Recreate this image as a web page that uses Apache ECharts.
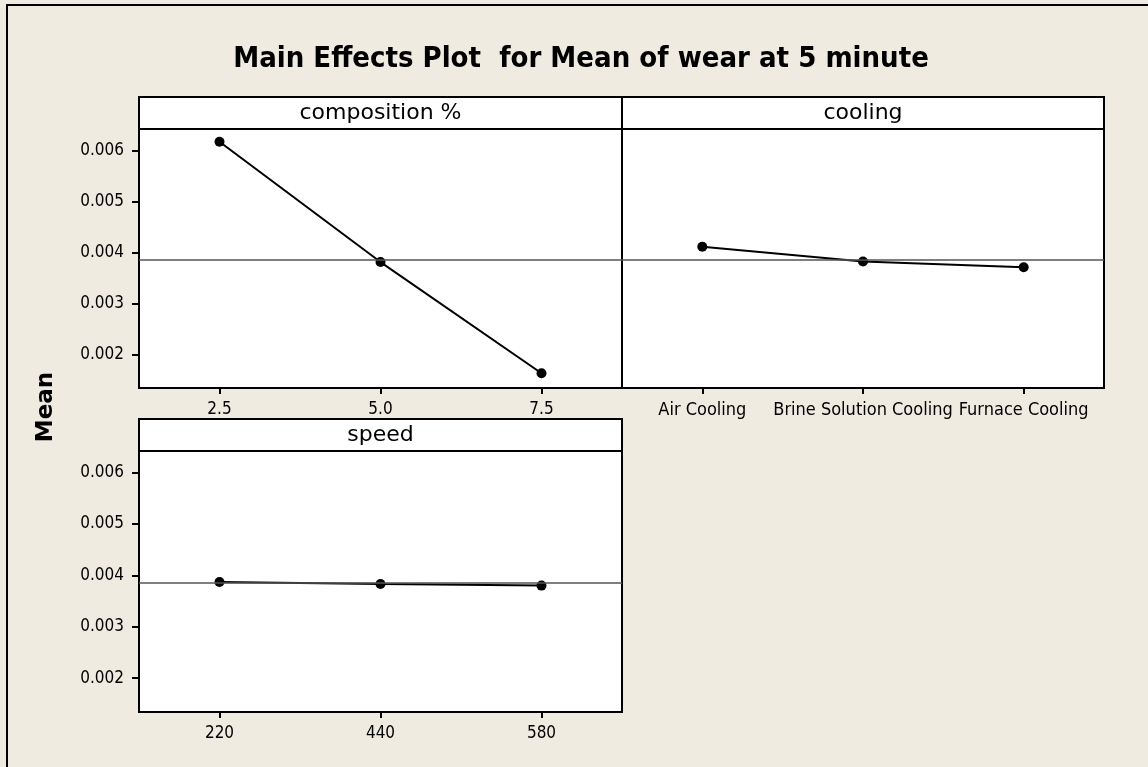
<!DOCTYPE html>
<html>
<head>
<meta charset="utf-8">
<title>Main Effects Plot for Mean of wear at 5 minute</title>
<script src="https://cdn.jsdelivr.net/npm/echarts@6/dist/echarts.min.js"></script>
<style>
	html, body { margin: 0; padding: 0; background: #f0ebe1; }
	#chart { width: 1148px; height: 767px; }
</style>
</head>
<body>
<div id="chart"></div>
<script>
// factor levels and the mean wear at each level
const compositionLevels = ['2.5', '5.0', '7.5'];
const compositionMeans = [0.00617, 0.00381, 0.00163];
const coolingLevels = ['Air Cooling', 'Brine Solution Cooling', 'Furnace Cooling'];
const coolingMeans = [0.00411, 0.00382, 0.00371];
const speedLevels = ['220', '440', '580'];
const speedMeans = [0.00387, 0.00383, 0.00380];
const grandMean = 0.00385;
const yTicks = [0.002, 0.003, 0.004, 0.005, 0.006];

const FONT = "'DejaVu Sans Condensed', 'DejaVu Sans', sans-serif";
const FONT_WIDE = "'DejaVu Sans', sans-serif";
const yMin = 0.00134;
const yMax = 0.00642;

// panel boxes (plot area only, header strip sits above)
const panels = [
	{ name: 'composition %', levels: compositionLevels, means: compositionMeans, left: 139, top: 129, width: 483, height: 259, yLabels: true, xFont: 17 },
	{ name: 'cooling', levels: coolingLevels, means: coolingMeans, left: 622, top: 129, width: 482, height: 259, yLabels: false, xFont: 18 },
	{ name: 'speed', levels: speedLevels, means: speedMeans, left: 139, top: 451, width: 483, height: 261, yLabels: true, xFont: 17 },
];
const HEADER_H = 32;

const grids = panels.map(p => ({
	left: p.left, top: p.top, width: p.width, height: p.height,
	show: true, backgroundColor: '#fff', borderColor: '#000', borderWidth: 2,
}));

const xAxes = panels.map((p, i) => ({
	type: 'category',
	gridIndex: i,
	data: p.levels,
	boundaryGap: true,
	axisLine: { show: false },
	axisTick: { show: true, alignWithLabel: true, length: 6, lineStyle: { color: '#000', width: 2 } },
	axisLabel: { interval: 0, hideOverlap: false, margin: 13, color: '#000', fontSize: p.xFont, fontFamily: FONT },
	splitLine: { show: false },
}));

const yAxes = panels.map((p, i) => ({
	type: 'value',
	gridIndex: i,
	min: yMin,
	max: yMax,
	axisLine: { show: false },
	axisTick: { show: p.yLabels, length: 7, customValues: yTicks, lineStyle: { color: '#000', width: 2 } },
	axisLabel: {
		show: p.yLabels, customValues: yTicks, margin: 15, color: '#000', fontSize: 17, fontFamily: FONT,
		formatter: v => v.toFixed(3),
	},
	splitLine: { show: false },
}));

const series = panels.map((p, i) => ({
	type: 'line',
	xAxisIndex: i,
	yAxisIndex: i,
	data: p.means,
	symbol: 'circle',
	symbolSize: 10,
	itemStyle: { color: '#000' },
	lineStyle: { color: '#000', width: 2 },
	markLine: {
		silent: true,
		symbol: 'none',
		precision: 6, // default rounding would snap the mean to 0
		label: { show: false },
		lineStyle: { color: '#555', width: 1.5, type: 'solid' },
		data: [{ yAxis: grandMean }],
	},
	z: 3,
}));

// frame, title, header strips + labels
const graphics = [
	{ type: 'rect', shape: { x: 7, y: 5, width: 1200, height: 800 }, style: { fill: 'none', stroke: '#000', lineWidth: 2 }, z: 100 },
	{
		type: 'text', x: 581, y: 59,
		style: { text: 'Main Effects Plot  for Mean of wear at 5 minute', font: `bold 29px ${FONT}`, fill: '#000', textAlign: 'center', textVerticalAlign: 'middle' },
	},
	{
		type: 'text', x: 46, y: 407, rotation: Math.PI / 2,
		style: { text: 'Mean', font: `bold 23px ${FONT_WIDE}`, fill: '#000', textAlign: 'center', textVerticalAlign: 'middle' },
	},
];
panels.forEach((p) => {
	graphics.push({
		type: 'rect',
		shape: { x: p.left, y: p.top - HEADER_H, width: p.width, height: HEADER_H },
		style: { fill: '#fff', stroke: '#000', lineWidth: 2 },
	});
	graphics.push({
		type: 'text', x: p.left + p.width / 2, y: p.top - HEADER_H / 2,
		style: { text: p.name, font: `22px ${FONT_WIDE}`, fill: '#000', textAlign: 'center', textVerticalAlign: 'middle' },
	});
});

const myChart = echarts.init(document.getElementById('chart'), null, { renderer: 'canvas' });
myChart.setOption({
	backgroundColor: '#f0ebe1',
	animation: false,
	grid: grids,
	xAxis: xAxes,
	yAxis: yAxes,
	series,
	graphic: graphics,
});
</script>
</body>
</html>
